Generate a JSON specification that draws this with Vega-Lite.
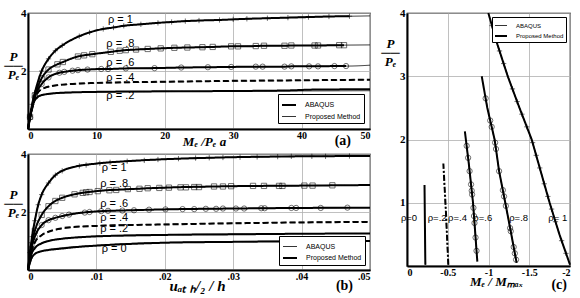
{
 "$schema": "https://vega.github.io/schema/vega-lite/v6.json",
 "background": "white",
 "padding": {"left": 3, "top": 6, "right": 2, "bottom": 2},
 "config": {
  "view": {"stroke": "black", "strokeWidth": 1.2},
  "axis": {"grid": true, "gridColor": "#b0b0b0", "gridWidth": 0.8, "domainColor": "black", "domainWidth": 2, "ticks": false, "labelFont": "Liberation Serif", "labelFontWeight": "bold", "labelFontSize": 11, "labelColor": "black", "labelPadding": 2, "titleFont": "Liberation Serif", "titleFontWeight": "bold", "titleFontStyle": "italic", "titleColor": "black", "titleFontSize": 13},
  "legend": {"labelFont": "Liberation Sans", "labelFontSize": 7, "labelColor": "black", "strokeColor": "black", "fillColor": "white", "padding": 3, "rowPadding": 0, "symbolType": "stroke", "symbolSize": 196, "symbolStrokeColor": "black", "labelOffset": 8},
  "title": {"font": "Liberation Serif", "fontWeight": "bold", "fontSize": 14, "color": "black"}
 },
 "datasets": {
  "a": [
   {"r":1,"m":"P","x":0,"y":0},{"r":1,"m":"P","x":0.3,"y":0.45},{"r":1,"m":"P","x":0.6,"y":0.85},{"r":1,"m":"P","x":1,"y":1.25},{"r":1,"m":"P","x":1.5,"y":1.65},{"r":1,"m":"P","x":2,"y":2.0},{"r":1,"m":"P","x":3,"y":2.42},{"r":1,"m":"P","x":4,"y":2.7},{"r":1,"m":"P","x":5,"y":2.88},{"r":1,"m":"P","x":7,"y":3.15},{"r":1,"m":"P","x":10,"y":3.4},{"r":1,"m":"P","x":15,"y":3.58},{"r":1,"m":"P","x":20,"y":3.68},{"r":1,"m":"P","x":25,"y":3.74},{"r":1,"m":"P","x":30,"y":3.78},{"r":1,"m":"P","x":35,"y":3.82},{"r":1,"m":"P","x":40,"y":3.86},{"r":1,"m":"P","x":45,"y":3.88},{"r":1,"m":"P","x":50,"y":3.9},
   {"r":0.8,"m":"P","x":0,"y":0},{"r":0.8,"m":"P","x":0.3,"y":0.42},{"r":0.8,"m":"P","x":0.6,"y":0.8},{"r":0.8,"m":"P","x":1,"y":1.15},{"r":0.8,"m":"P","x":1.5,"y":1.5},{"r":0.8,"m":"P","x":2,"y":1.75},{"r":0.8,"m":"P","x":3,"y":2.05},{"r":0.8,"m":"P","x":4,"y":2.2},{"r":0.8,"m":"P","x":5,"y":2.3},{"r":0.8,"m":"P","x":7,"y":2.48},{"r":0.8,"m":"P","x":10,"y":2.6},{"r":0.8,"m":"P","x":15,"y":2.73},{"r":0.8,"m":"P","x":20,"y":2.79},{"r":0.8,"m":"P","x":25,"y":2.82},{"r":0.8,"m":"P","x":30,"y":2.85},{"r":0.8,"m":"P","x":35,"y":2.87},{"r":0.8,"m":"P","x":40,"y":2.88},{"r":0.8,"m":"P","x":45,"y":2.89},{"r":0.8,"m":"P","x":50,"y":2.9},
   {"r":0.6,"m":"P","x":0,"y":0},{"r":0.6,"m":"P","x":0.3,"y":0.4},{"r":0.6,"m":"P","x":0.6,"y":0.75},{"r":0.6,"m":"P","x":1,"y":1.1},{"r":0.6,"m":"P","x":1.5,"y":1.38},{"r":0.6,"m":"P","x":2,"y":1.55},{"r":0.6,"m":"P","x":3,"y":1.78},{"r":0.6,"m":"P","x":4,"y":1.9},{"r":0.6,"m":"P","x":5,"y":1.96},{"r":0.6,"m":"P","x":7,"y":2.02},{"r":0.6,"m":"P","x":10,"y":2.06},{"r":0.6,"m":"P","x":15,"y":2.09},{"r":0.6,"m":"P","x":20,"y":2.11},{"r":0.6,"m":"P","x":25,"y":2.12},{"r":0.6,"m":"P","x":30,"y":2.14},{"r":0.6,"m":"P","x":40,"y":2.16},{"r":0.6,"m":"P","x":47,"y":2.17},{"r":0.6,"m":"P","x":50,"y":2.2},
   {"r":0.4,"m":"P","x":0,"y":0},{"r":0.4,"m":"P","x":0.3,"y":0.4},{"r":0.4,"m":"P","x":0.6,"y":0.72},{"r":0.4,"m":"P","x":1,"y":1.02},{"r":0.4,"m":"P","x":1.5,"y":1.25},{"r":0.4,"m":"P","x":2,"y":1.36},{"r":0.4,"m":"P","x":3,"y":1.45},{"r":0.4,"m":"P","x":5,"y":1.52},{"r":0.4,"m":"P","x":7,"y":1.55},{"r":0.4,"m":"P","x":10,"y":1.58},{"r":0.4,"m":"P","x":15,"y":1.6},{"r":0.4,"m":"P","x":20,"y":1.62},{"r":0.4,"m":"P","x":30,"y":1.65},{"r":0.4,"m":"P","x":40,"y":1.67},{"r":0.4,"m":"P","x":50,"y":1.7},
   {"r":0.2,"m":"P","x":0,"y":0},{"r":0.2,"m":"P","x":0.3,"y":0.4},{"r":0.2,"m":"P","x":0.6,"y":0.72},{"r":0.2,"m":"P","x":1,"y":0.98},{"r":0.2,"m":"P","x":1.5,"y":1.1},{"r":0.2,"m":"P","x":2,"y":1.16},{"r":0.2,"m":"P","x":3,"y":1.2},{"r":0.2,"m":"P","x":5,"y":1.24},{"r":0.2,"m":"P","x":10,"y":1.27},{"r":0.2,"m":"P","x":20,"y":1.29},{"r":0.2,"m":"P","x":30,"y":1.3},{"r":0.2,"m":"P","x":40,"y":1.31},{"r":0.2,"m":"P","x":50,"y":1.32},
   {"r":1,"m":"A","x":0,"y":0},{"r":1,"m":"A","x":0.3,"y":0.45},{"r":1,"m":"A","x":0.6,"y":0.85},{"r":1,"m":"A","x":1,"y":1.25},{"r":1,"m":"A","x":2,"y":2.0},{"r":1,"m":"A","x":3,"y":2.42},{"r":1,"m":"A","x":4,"y":2.7},{"r":1,"m":"A","x":5,"y":2.88},{"r":1,"m":"A","x":7.5,"y":3.2},{"r":1,"m":"A","x":9,"y":3.33},{"r":1,"m":"A","x":11,"y":3.45},{"r":1,"m":"A","x":12.5,"y":3.5},{"r":1,"m":"A","x":14,"y":3.56},{"r":1,"m":"A","x":16.5,"y":3.61},{"r":1,"m":"A","x":19,"y":3.66},{"r":1,"m":"A","x":21,"y":3.69},{"r":1,"m":"A","x":23,"y":3.72},{"r":1,"m":"A","x":25,"y":3.74},{"r":1,"m":"A","x":28,"y":3.76},{"r":1,"m":"A","x":30,"y":3.78},{"r":1,"m":"A","x":32,"y":3.8},{"r":1,"m":"A","x":35,"y":3.82},{"r":1,"m":"A","x":38,"y":3.84},{"r":1,"m":"A","x":41,"y":3.86},{"r":1,"m":"A","x":44,"y":3.88},{"r":1,"m":"A","x":47,"y":3.89},
   {"r":0.8,"m":"A","x":0,"y":0},{"r":0.8,"m":"A","x":0.3,"y":0.42},{"r":0.8,"m":"A","x":1,"y":1.15},{"r":0.8,"m":"A","x":2,"y":1.75},{"r":0.8,"m":"A","x":3,"y":2.05},{"r":0.8,"m":"A","x":4.3,"y":2.23},{"r":0.8,"m":"A","x":5.1,"y":2.31},{"r":0.8,"m":"A","x":7.3,"y":2.5},{"r":0.8,"m":"A","x":8.2,"y":2.54},{"r":0.8,"m":"A","x":9.4,"y":2.58},{"r":0.8,"m":"A","x":12.1,"y":2.66},{"r":0.8,"m":"A","x":13.4,"y":2.7},{"r":0.8,"m":"A","x":14.3,"y":2.72},{"r":0.8,"m":"A","x":15.8,"y":2.74},{"r":0.8,"m":"A","x":17.5,"y":2.76},{"r":0.8,"m":"A","x":19.4,"y":2.78},{"r":0.8,"m":"A","x":21.4,"y":2.8},{"r":0.8,"m":"A","x":23.3,"y":2.81},{"r":0.8,"m":"A","x":25.5,"y":2.82},{"r":0.8,"m":"A","x":27,"y":2.83},{"r":0.8,"m":"A","x":29.7,"y":2.85},{"r":0.8,"m":"A","x":30.7,"y":2.85},{"r":0.8,"m":"A","x":33.3,"y":2.86},{"r":0.8,"m":"A","x":34.5,"y":2.87},{"r":0.8,"m":"A","x":37.5,"y":2.87},{"r":0.8,"m":"A","x":38.5,"y":2.88},{"r":0.8,"m":"A","x":41.9,"y":2.88},{"r":0.8,"m":"A","x":42.4,"y":2.88},{"r":0.8,"m":"A","x":45.5,"y":2.89},{"r":0.8,"m":"A","x":46.2,"y":2.89},
   {"r":0.6,"m":"A","x":0,"y":0},{"r":0.6,"m":"A","x":0.3,"y":0.4},{"r":0.6,"m":"A","x":1,"y":1.1},{"r":0.6,"m":"A","x":2,"y":1.55},{"r":0.6,"m":"A","x":3,"y":1.78},{"r":0.6,"m":"A","x":4.6,"y":1.94},{"r":0.6,"m":"A","x":5.3,"y":1.97},{"r":0.6,"m":"A","x":6.5,"y":2.01},{"r":0.6,"m":"A","x":7.3,"y":2.03},{"r":0.6,"m":"A","x":8.7,"y":2.05},{"r":0.6,"m":"A","x":10.7,"y":2.07},{"r":0.6,"m":"A","x":11.7,"y":2.07},{"r":0.6,"m":"A","x":14.3,"y":2.09},{"r":0.6,"m":"A","x":18.5,"y":2.1},{"r":0.6,"m":"A","x":22.4,"y":2.12},{"r":0.6,"m":"A","x":26.3,"y":2.13},{"r":0.6,"m":"A","x":29.7,"y":2.14},{"r":0.6,"m":"A","x":33.3,"y":2.15},{"r":0.6,"m":"A","x":34.3,"y":2.15},{"r":0.6,"m":"A","x":37.5,"y":2.15},{"r":0.6,"m":"A","x":38.5,"y":2.16},{"r":0.6,"m":"A","x":41.1,"y":2.16},{"r":0.6,"m":"A","x":42.4,"y":2.16},{"r":0.6,"m":"A","x":44.8,"y":2.17},{"r":0.6,"m":"A","x":46.5,"y":2.17},
   {"r":0.4,"m":"A","x":0,"y":0},{"r":0.4,"m":"A","x":1,"y":1.04},{"r":0.4,"m":"A","x":2,"y":1.38},{"r":0.4,"m":"A","x":5,"y":1.53},{"r":0.4,"m":"A","x":10,"y":1.59},{"r":0.4,"m":"A","x":20,"y":1.63},{"r":0.4,"m":"A","x":30,"y":1.66},{"r":0.4,"m":"A","x":40,"y":1.68},{"r":0.4,"m":"A","x":50,"y":1.7},
   {"r":0.2,"m":"A","x":0,"y":0},{"r":0.2,"m":"A","x":1,"y":1.0},{"r":0.2,"m":"A","x":2,"y":1.17},{"r":0.2,"m":"A","x":5,"y":1.25},{"r":0.2,"m":"A","x":10,"y":1.28},{"r":0.2,"m":"A","x":20,"y":1.3},{"r":0.2,"m":"A","x":30,"y":1.31},{"r":0.2,"m":"A","x":38,"y":1.33},{"r":0.2,"m":"A","x":42,"y":1.36},{"r":0.2,"m":"A","x":50,"y":1.37}
  ],
  "ta": [
   {"x":13.5,"y":3.75,"t":"ρ = 1"},{"x":13.5,"y":2.93,"t":"ρ = .8"},{"x":13.5,"y":2.26,"t":"ρ = .6"},{"x":13.5,"y":1.76,"t":"ρ = .4"},{"x":13.5,"y":1.15,"t":"ρ = .2"}
  ],
  "b": [
   {"r":1,"m":"P","x":0,"y":0},{"r":1,"m":"P","x":0.0005,"y":1.0},{"r":1,"m":"P","x":0.001,"y":1.7},{"r":1,"m":"P","x":0.0015,"y":2.25},{"r":1,"m":"P","x":0.002,"y":2.6},{"r":1,"m":"P","x":0.003,"y":3.0},{"r":1,"m":"P","x":0.004,"y":3.27},{"r":1,"m":"P","x":0.005,"y":3.42},{"r":1,"m":"P","x":0.007,"y":3.57},{"r":1,"m":"P","x":0.01,"y":3.67},{"r":1,"m":"P","x":0.015,"y":3.76},{"r":1,"m":"P","x":0.02,"y":3.82},{"r":1,"m":"P","x":0.025,"y":3.86},{"r":1,"m":"P","x":0.03,"y":3.89},{"r":1,"m":"P","x":0.04,"y":3.92},{"r":1,"m":"P","x":0.05,"y":3.93},
   {"r":0.8,"m":"P","x":0,"y":0},{"r":0.8,"m":"P","x":0.0005,"y":0.85},{"r":0.8,"m":"P","x":0.001,"y":1.35},{"r":0.8,"m":"P","x":0.002,"y":1.9},{"r":0.8,"m":"P","x":0.003,"y":2.2},{"r":0.8,"m":"P","x":0.004,"y":2.38},{"r":0.8,"m":"P","x":0.005,"y":2.49},{"r":0.8,"m":"P","x":0.007,"y":2.62},{"r":0.8,"m":"P","x":0.01,"y":2.72},{"r":0.8,"m":"P","x":0.015,"y":2.79},{"r":0.8,"m":"P","x":0.02,"y":2.84},{"r":0.8,"m":"P","x":0.03,"y":2.89},{"r":0.8,"m":"P","x":0.04,"y":2.91},{"r":0.8,"m":"P","x":0.05,"y":2.93},
   {"r":0.6,"m":"P","x":0,"y":0},{"r":0.6,"m":"P","x":0.0005,"y":0.75},{"r":0.6,"m":"P","x":0.001,"y":1.15},{"r":0.6,"m":"P","x":0.002,"y":1.55},{"r":0.6,"m":"P","x":0.003,"y":1.72},{"r":0.6,"m":"P","x":0.004,"y":1.8},{"r":0.6,"m":"P","x":0.005,"y":1.86},{"r":0.6,"m":"P","x":0.007,"y":1.95},{"r":0.6,"m":"P","x":0.01,"y":2.02},{"r":0.6,"m":"P","x":0.015,"y":2.06},{"r":0.6,"m":"P","x":0.02,"y":2.09},{"r":0.6,"m":"P","x":0.03,"y":2.12},{"r":0.6,"m":"P","x":0.04,"y":2.14},{"r":0.6,"m":"P","x":0.05,"y":2.15},
   {"r":0.4,"m":"P","x":0,"y":0},{"r":0.4,"m":"P","x":0.0005,"y":0.65},{"r":0.4,"m":"P","x":0.001,"y":0.95},{"r":0.4,"m":"P","x":0.002,"y":1.2},{"r":0.4,"m":"P","x":0.003,"y":1.32},{"r":0.4,"m":"P","x":0.005,"y":1.44},{"r":0.4,"m":"P","x":0.007,"y":1.49},{"r":0.4,"m":"P","x":0.01,"y":1.52},{"r":0.4,"m":"P","x":0.015,"y":1.55},{"r":0.4,"m":"P","x":0.02,"y":1.57},{"r":0.4,"m":"P","x":0.03,"y":1.61},{"r":0.4,"m":"P","x":0.04,"y":1.64},{"r":0.4,"m":"P","x":0.05,"y":1.66},
   {"r":0.2,"m":"P","x":0,"y":0},{"r":0.2,"m":"P","x":0.0005,"y":0.55},{"r":0.2,"m":"P","x":0.001,"y":0.75},{"r":0.2,"m":"P","x":0.002,"y":0.92},{"r":0.2,"m":"P","x":0.003,"y":1.0},{"r":0.2,"m":"P","x":0.005,"y":1.08},{"r":0.2,"m":"P","x":0.007,"y":1.12},{"r":0.2,"m":"P","x":0.01,"y":1.16},{"r":0.2,"m":"P","x":0.015,"y":1.19},{"r":0.2,"m":"P","x":0.02,"y":1.21},{"r":0.2,"m":"P","x":0.03,"y":1.23},{"r":0.2,"m":"P","x":0.04,"y":1.25},{"r":0.2,"m":"P","x":0.05,"y":1.26},
   {"r":0,"m":"P","x":0,"y":0},{"r":0,"m":"P","x":0.0005,"y":0.4},{"r":0,"m":"P","x":0.001,"y":0.55},{"r":0,"m":"P","x":0.002,"y":0.65},{"r":0,"m":"P","x":0.003,"y":0.69},{"r":0,"m":"P","x":0.005,"y":0.74},{"r":0,"m":"P","x":0.007,"y":0.79},{"r":0,"m":"P","x":0.01,"y":0.84},{"r":0,"m":"P","x":0.015,"y":0.9},{"r":0,"m":"P","x":0.02,"y":0.94},{"r":0,"m":"P","x":0.03,"y":0.97},{"r":0,"m":"P","x":0.04,"y":0.99},{"r":0,"m":"P","x":0.05,"y":1.0},
   {"r":1,"m":"A","x":0,"y":0},{"r":1,"m":"A","x":0.0003,"y":0.6},{"r":1,"m":"A","x":0.0006,"y":1.15},{"r":1,"m":"A","x":0.001,"y":1.7},{"r":1,"m":"A","x":0.0015,"y":2.25},{"r":1,"m":"A","x":0.002,"y":2.6},{"r":1,"m":"A","x":0.003,"y":3.0},{"r":1,"m":"A","x":0.004,"y":3.27},{"r":1,"m":"A","x":0.005,"y":3.42},{"r":1,"m":"A","x":0.0075,"y":3.59},{"r":1,"m":"A","x":0.0085,"y":3.62},{"r":1,"m":"A","x":0.0105,"y":3.68},{"r":1,"m":"A","x":0.012,"y":3.71},{"r":1,"m":"A","x":0.0145,"y":3.75},{"r":1,"m":"A","x":0.017,"y":3.78},{"r":1,"m":"A","x":0.019,"y":3.81},{"r":1,"m":"A","x":0.022,"y":3.84},{"r":1,"m":"A","x":0.0245,"y":3.86},{"r":1,"m":"A","x":0.0265,"y":3.87},{"r":1,"m":"A","x":0.0285,"y":3.88},{"r":1,"m":"A","x":0.031,"y":3.89},{"r":1,"m":"A","x":0.0335,"y":3.9},{"r":1,"m":"A","x":0.0365,"y":3.91},{"r":1,"m":"A","x":0.0385,"y":3.92},{"r":1,"m":"A","x":0.0415,"y":3.92},{"r":1,"m":"A","x":0.0435,"y":3.92},{"r":1,"m":"A","x":0.047,"y":3.93},
   {"r":0.8,"m":"A","x":0,"y":0},{"r":0.8,"m":"A","x":0.0005,"y":0.85},{"r":0.8,"m":"A","x":0.001,"y":1.35},{"r":0.8,"m":"A","x":0.002,"y":1.9},{"r":0.8,"m":"A","x":0.003,"y":2.2},{"r":0.8,"m":"A","x":0.004,"y":2.38},{"r":0.8,"m":"A","x":0.005,"y":2.49},{"r":0.8,"m":"A","x":0.0068,"y":2.61},{"r":0.8,"m":"A","x":0.008,"y":2.66},{"r":0.8,"m":"A","x":0.0085,"y":2.68},{"r":0.8,"m":"A","x":0.009,"y":2.69},{"r":0.8,"m":"A","x":0.0102,"y":2.72},{"r":0.8,"m":"A","x":0.0119,"y":2.75},{"r":0.8,"m":"A","x":0.0129,"y":2.76},{"r":0.8,"m":"A","x":0.0146,"y":2.79},{"r":0.8,"m":"A","x":0.0163,"y":2.8},{"r":0.8,"m":"A","x":0.0175,"y":2.82},{"r":0.8,"m":"A","x":0.0192,"y":2.83},{"r":0.8,"m":"A","x":0.0206,"y":2.84},{"r":0.8,"m":"A","x":0.0223,"y":2.85},{"r":0.8,"m":"A","x":0.0231,"y":2.85},{"r":0.8,"m":"A","x":0.0243,"y":2.86},{"r":0.8,"m":"A","x":0.025,"y":2.86},{"r":0.8,"m":"A","x":0.0272,"y":2.88},{"r":0.8,"m":"A","x":0.0285,"y":2.88},{"r":0.8,"m":"A","x":0.0297,"y":2.89},{"r":0.8,"m":"A","x":0.0329,"y":2.9},{"r":0.8,"m":"A","x":0.0345,"y":2.9},{"r":0.8,"m":"A","x":0.0367,"y":2.9},{"r":0.8,"m":"A","x":0.0372,"y":2.9},{"r":0.8,"m":"A","x":0.0404,"y":2.91},{"r":0.8,"m":"A","x":0.0416,"y":2.91},{"r":0.8,"m":"A","x":0.0445,"y":2.92},
   {"r":0.6,"m":"A","x":0,"y":0},{"r":0.6,"m":"A","x":0.0005,"y":0.75},{"r":0.6,"m":"A","x":0.001,"y":1.15},{"r":0.6,"m":"A","x":0.002,"y":1.55},{"r":0.6,"m":"A","x":0.003,"y":1.72},{"r":0.6,"m":"A","x":0.004,"y":1.8},{"r":0.6,"m":"A","x":0.005,"y":1.86},{"r":0.6,"m":"A","x":0.006,"y":1.91},{"r":0.6,"m":"A","x":0.0083,"y":1.98},{"r":0.6,"m":"A","x":0.009,"y":2.0},{"r":0.6,"m":"A","x":0.0107,"y":2.03},{"r":0.6,"m":"A","x":0.0117,"y":2.04},{"r":0.6,"m":"A","x":0.0138,"y":2.05},{"r":0.6,"m":"A","x":0.0155,"y":2.06},{"r":0.6,"m":"A","x":0.0177,"y":2.08},{"r":0.6,"m":"A","x":0.0201,"y":2.09},{"r":0.6,"m":"A","x":0.0226,"y":2.1},{"r":0.6,"m":"A","x":0.0243,"y":2.1},{"r":0.6,"m":"A","x":0.026,"y":2.11},{"r":0.6,"m":"A","x":0.0275,"y":2.11},{"r":0.6,"m":"A","x":0.0285,"y":2.12},{"r":0.6,"m":"A","x":0.0304,"y":2.12},{"r":0.6,"m":"A","x":0.0316,"y":2.12},{"r":0.6,"m":"A","x":0.0341,"y":2.13},{"r":0.6,"m":"A","x":0.0346,"y":2.13},{"r":0.6,"m":"A","x":0.0385,"y":2.14},{"r":0.6,"m":"A","x":0.0392,"y":2.14},{"r":0.6,"m":"A","x":0.0428,"y":2.14},{"r":0.6,"m":"A","x":0.0467,"y":2.15},
   {"r":0.4,"m":"A","x":0,"y":0},{"r":0.4,"m":"A","x":0.001,"y":0.97},{"r":0.4,"m":"A","x":0.003,"y":1.33},{"r":0.4,"m":"A","x":0.01,"y":1.53},{"r":0.4,"m":"A","x":0.02,"y":1.58},{"r":0.4,"m":"A","x":0.03,"y":1.62},{"r":0.4,"m":"A","x":0.05,"y":1.67},
   {"r":0.2,"m":"A","x":0,"y":0},{"r":0.2,"m":"A","x":0.001,"y":0.77},{"r":0.2,"m":"A","x":0.003,"y":1.01},{"r":0.2,"m":"A","x":0.01,"y":1.17},{"r":0.2,"m":"A","x":0.02,"y":1.22},{"r":0.2,"m":"A","x":0.038,"y":1.25},
   {"r":0,"m":"A","x":0,"y":0},{"r":0,"m":"A","x":0.001,"y":0.56},{"r":0,"m":"A","x":0.003,"y":0.7},{"r":0,"m":"A","x":0.01,"y":0.85},{"r":0,"m":"A","x":0.02,"y":0.95},{"r":0,"m":"A","x":0.05,"y":1.01}
  ],
  "tb": [
   {"x":0.0126,"y":3.53,"t":"ρ = 1"},{"x":0.0126,"y":2.95,"t":"ρ = .8"},{"x":0.0126,"y":2.29,"t":"ρ = .6"},{"x":0.0126,"y":1.79,"t":"ρ = .4"},{"x":0.0126,"y":1.4,"t":"ρ = .2"},{"x":0.0126,"y":0.71,"t":"ρ = 0"}
  ],
  "c": [
   {"r":0.2,"m":"P","x":-0.225,"y":0.02},{"r":0.2,"m":"P","x":-0.215,"y":1.28},
   {"r":0.4,"m":"P","x":-0.507,"y":0.02},{"r":0.4,"m":"P","x":-0.48,"y":0.8},{"r":0.4,"m":"P","x":-0.446,"y":1.62},
   {"r":0.6,"m":"P","x":-0.863,"y":0.07},{"r":0.6,"m":"P","x":-0.81,"y":1.0},{"r":0.6,"m":"P","x":-0.76,"y":1.6},{"r":0.6,"m":"P","x":-0.71,"y":2.13},
   {"r":0.8,"m":"P","x":-1.345,"y":0.05},{"r":0.8,"m":"P","x":-1.28,"y":0.5},{"r":0.8,"m":"P","x":-1.206,"y":1.0},{"r":0.8,"m":"P","x":-1.13,"y":1.5},{"r":0.8,"m":"P","x":-1.075,"y":2.0},{"r":0.8,"m":"P","x":-0.985,"y":2.5},{"r":0.8,"m":"P","x":-0.917,"y":3.0},
   {"r":1,"m":"P","x":-2.0,"y":0.02},{"r":1,"m":"P","x":-1.87,"y":0.5},{"r":1,"m":"P","x":-1.75,"y":1.0},{"r":1,"m":"P","x":-1.64,"y":1.5},{"r":1,"m":"P","x":-1.53,"y":2.0},{"r":1,"m":"P","x":-1.38,"y":2.5},{"r":1,"m":"P","x":-1.236,"y":3.0},{"r":1,"m":"P","x":-1.11,"y":3.5},{"r":1,"m":"P","x":-0.998,"y":4.0},
   {"r":0.2,"m":"A","x":-0.228,"y":0.02},{"r":0.2,"m":"A","x":-0.222,"y":0.6},
   {"r":0.4,"m":"A","x":-0.505,"y":0.02},{"r":0.4,"m":"A","x":-0.45,"y":1.5},
   {"r":0.6,"m":"A","x":-0.853,"y":0.24},{"r":0.6,"m":"A","x":-0.841,"y":0.45},{"r":0.6,"m":"A","x":-0.828,"y":0.68},{"r":0.6,"m":"A","x":-0.822,"y":0.79},{"r":0.6,"m":"A","x":-0.815,"y":0.92},{"r":0.6,"m":"A","x":-0.799,"y":1.13},{"r":0.6,"m":"A","x":-0.794,"y":1.19},{"r":0.6,"m":"A","x":-0.786,"y":1.29},{"r":0.6,"m":"A","x":-0.768,"y":1.5},{"r":0.6,"m":"A","x":-0.75,"y":1.71},{"r":0.6,"m":"A","x":-0.732,"y":1.9},
   {"r":0.8,"m":"A","x":-1.338,"y":0.1},{"r":0.8,"m":"A","x":-1.323,"y":0.2},{"r":0.8,"m":"A","x":-1.309,"y":0.3},{"r":0.8,"m":"A","x":-1.273,"y":0.55},{"r":0.8,"m":"A","x":-1.265,"y":0.6},{"r":0.8,"m":"A","x":-1.213,"y":0.95},{"r":0.8,"m":"A","x":-1.191,"y":1.1},{"r":0.8,"m":"A","x":-1.176,"y":1.2},{"r":0.8,"m":"A","x":-1.13,"y":1.5},{"r":0.8,"m":"A","x":-1.092,"y":1.85},{"r":0.8,"m":"A","x":-1.081,"y":1.95},{"r":0.8,"m":"A","x":-1.039,"y":2.2},{"r":0.8,"m":"A","x":-1.021,"y":2.3},{"r":0.8,"m":"A","x":-0.965,"y":2.65},
   {"r":1,"m":"A","x":-1.951,"y":0.2},{"r":1,"m":"A","x":-1.897,"y":0.4},{"r":1,"m":"A","x":-1.822,"y":0.7},{"r":1,"m":"A","x":-1.774,"y":0.9},{"r":1,"m":"A","x":-1.728,"y":1.1},{"r":1,"m":"A","x":-1.684,"y":1.3},{"r":1,"m":"A","x":-1.629,"y":1.55},{"r":1,"m":"A","x":-1.585,"y":1.75},{"r":1,"m":"A","x":-1.541,"y":1.95},{"r":1,"m":"A","x":-1.47,"y":2.2},{"r":1,"m":"A","x":-1.41,"y":2.4},{"r":1,"m":"A","x":-1.351,"y":2.6},{"r":1,"m":"A","x":-1.294,"y":2.8},{"r":1,"m":"A","x":-1.186,"y":3.2},{"r":1,"m":"A","x":-1.135,"y":3.4},{"r":1,"m":"A","x":-1.099,"y":3.55},{"r":1,"m":"A","x":-1.043,"y":3.8}
  ],
  "tc": [
   {"x":-0.025,"y":0.76,"t":"ρ=0"},{"x":-0.37,"y":0.76,"t":"ρ=.2"},{"x":-0.62,"y":0.76,"t":"ρ=.4"},{"x":-0.93,"y":0.76,"t":"ρ=.6"},{"x":-1.37,"y":0.76,"t":"ρ=.8"},{"x":-1.85,"y":0.76,"t":"ρ= 1"}
  ]
 },
 "spacing": 5,
 "resolve": {"scale": {"strokeWidth": "independent", "strokeDash": "independent", "shape": "independent"}, "legend": {"strokeWidth": "independent"}},
 "hconcat": [
  {
   "spacing": 25,
   "bounds": "flush",
   "resolve": {"scale": {"strokeWidth": "independent", "strokeDash": "independent", "shape": "independent"}, "legend": {"strokeWidth": "independent"}},
   "vconcat": [
    {
     "width": 342, "height": 116,
     "data": {"name": "a"},
     "title": {"text": "(a)", "orient": "bottom", "anchor": "end", "frame": "group", "offset": -14, "dx": -19},
     "layer": [
      {"mark": {"type": "line", "interpolate": "monotone", "color": "black"},
       "encoding": {
        "x": {"field": "x", "type": "quantitative", "scale": {"domain": [0, 50], "nice": false}, "axis": {"values": [0,5,10,15,20,25,30,35,40,45,50], "labelExpr": "datum.value % 10 == 0 ? datum.label : ''", "labelFontSize": 10, "labelPadding": 1, "title": "Mₑ  /Pₑ a", "titleX": 176, "titleY": 12, "titleBaseline": "middle", "titleAlign": "center"}},
        "y": {"field": "y", "type": "quantitative", "scale": {"domain": [0, 4], "nice": false}, "axis": {"values": [0,0.5,1,1.5,2,2.5,3,3.5,4], "labelExpr": "datum.value > 0 && datum.value % 1 == 0 ? format(datum.value, 'd') : ''", "title": ["P", "──", "Pₑ"], "titleAngle": 0, "titleX": -15, "titleY": 43, "titleAlign": "center", "titleBaseline": "middle", "titleLineHeight": 9}},
        "detail": {"field": "r", "type": "nominal"},
        "strokeDash": {"field": "r", "type": "nominal", "scale": {"domain": [0, 0.2, 0.4, 0.6, 0.8, 1], "range": [[1,0],[1,0],[6,3],[1,0],[1,0],[1,0]]}, "legend": null},
        "strokeWidth": {"field": "m", "type": "nominal", "scale": {"type": "ordinal", "domain": ["A", "P"], "range": [2, 0.8]}, "legend": {"title": null, "orient": "bottom-right", "offset": 6, "labelExpr": "datum.value == 'A' ? 'ABAQUS' : 'Proposed Method'"}}
       }},
      {"transform": [{"filter": "datum.m == 'A' && datum.r >= 0.6 && datum.y > 0"}],
       "mark": {"type": "point", "filled": false, "color": "black", "strokeWidth": 0.8, "size": 28},
       "encoding": {
        "x": {"field": "x", "type": "quantitative"},
        "y": {"field": "y", "type": "quantitative"},
        "shape": {"field": "r", "type": "nominal", "scale": {"domain": [1, 0.8, 0.6], "range": ["M-1,0H1M0,-1V1", "square", "circle"]}, "legend": null}
       }},
      {"data": {"name": "ta"},
       "mark": {"type": "text", "font": "Liberation Sans", "fontSize": 11, "color": "black"},
       "encoding": {
        "x": {"field": "x", "type": "quantitative"},
        "y": {"field": "y", "type": "quantitative"},
        "text": {"field": "t"}
       }}
     ]
    },
    {
     "width": 342, "height": 116,
     "data": {"name": "b"},
     "title": {"text": "(b)", "orient": "bottom", "anchor": "end", "frame": "group", "offset": -14, "dx": -17},
     "layer": [
      {"mark": {"type": "line", "interpolate": "monotone", "color": "black"},
       "encoding": {
        "x": {"field": "x", "type": "quantitative", "scale": {"domain": [0, 0.05], "nice": false}, "axis": {"values": [0,0.005,0.01,0.015,0.02,0.025,0.03,0.035,0.04,0.045,0.05], "labelExpr": "datum.value == 0 ? '0' : (round(datum.value * 1000) % 10 == 0 ? '.0' + round(datum.value * 100) : '')", "labelFontSize": 10, "labelPadding": 1, "title": "uₐₜ ₕ/₂ / h", "titleFontSize": 15, "titleX": 169, "titleY": 15, "titleBaseline": "middle", "titleAlign": "center"}},
        "y": {"field": "y", "type": "quantitative", "scale": {"domain": [0, 4], "nice": false}, "axis": {"values": [0,0.5,1,1.5,2,2.5,3,3.5,4], "labelExpr": "datum.value > 0 && datum.value % 1 == 0 ? format(datum.value, 'd') : ''", "title": ["P", "──", "Pₑ"], "titleAngle": 0, "titleX": -15, "titleY": 40, "titleAlign": "center", "titleBaseline": "middle", "titleLineHeight": 9}},
        "detail": {"field": "r", "type": "nominal"},
        "strokeDash": {"field": "r", "type": "nominal", "scale": {"domain": [0, 0.2, 0.4, 0.6, 0.8, 1], "range": [[1,0],[1,0],[6,3],[1,0],[1,0],[1,0]]}, "legend": null},
        "strokeWidth": {"field": "m", "type": "nominal", "scale": {"type": "ordinal", "domain": ["A", "P"], "range": [0.8, 2]}, "legend": {"title": null, "orient": "bottom-right", "offset": 5, "labelExpr": "datum.value == 'A' ? 'ABAQUS' : 'Proposed Method'"}}
       }},
      {"transform": [{"filter": "datum.m == 'A' && datum.r >= 0.6 && datum.y > 0"}],
       "mark": {"type": "point", "filled": false, "color": "black", "strokeWidth": 0.8, "size": 28},
       "encoding": {
        "x": {"field": "x", "type": "quantitative"},
        "y": {"field": "y", "type": "quantitative"},
        "shape": {"field": "r", "type": "nominal", "scale": {"domain": [1, 0.8, 0.6], "range": ["M-1,0H1M0,-1V1", "square", "circle"]}, "legend": null}
       }},
      {"data": {"name": "tb"},
       "mark": {"type": "text", "font": "Liberation Sans", "fontSize": 11, "color": "black"},
       "encoding": {
        "x": {"field": "x", "type": "quantitative"},
        "y": {"field": "y", "type": "quantitative"},
        "text": {"field": "t"}
       }}
     ]
    }
   ]
  },
  {
   "width": 163, "height": 253,
   "data": {"name": "c"},
   "title": {"text": "(c)", "orient": "bottom", "anchor": "end", "frame": "group", "offset": -10, "dx": -3},
   "layer": [
    {"mark": {"type": "line", "color": "black"},
     "encoding": {
      "x": {"field": "x", "type": "quantitative", "scale": {"domain": [-2, 0], "reverse": true, "nice": false}, "axis": {"values": [0,-0.5,-1,-1.5,-2], "labelExpr": "datum.value == 0 ? '0' : '-' + format(abs(datum.value), '~g')", "labelFontSize": 10, "labelPadding": 1, "title": "Mₑ / Mₘₐₓ", "titleX": 89, "titleY": 15, "titleBaseline": "middle", "titleAlign": "center"}},
      "y": {"field": "y", "type": "quantitative", "scale": {"domain": [0, 4], "nice": false}, "axis": {"values": [0,0.5,1,1.5,2,2.5,3,3.5,4], "labelExpr": "datum.value > 0 && datum.value % 1 == 0 ? format(datum.value, 'd') : ''", "title": ["P", "──", "Pₑ"], "titleAngle": 0, "titleX": -17, "titleY": 30, "titleAlign": "center", "titleBaseline": "middle", "titleLineHeight": 9}},
      "detail": {"field": "r", "type": "nominal"},
      "order": {"field": "y", "type": "quantitative"},
      "strokeDash": {"field": "r", "type": "nominal", "scale": {"domain": [0.2, 0.4, 0.6, 0.8, 1], "range": [[1,0],[6,2,2,2],[1,0],[1,0],[1,0]]}, "legend": null},
      "strokeWidth": {"field": "m", "type": "nominal", "scale": {"type": "ordinal", "domain": ["A", "P"], "range": [0.8, 2]}, "legend": {"title": null, "orient": "top-right", "offset": 4, "labelFontSize": 6, "padding": 2, "symbolSize": 144, "labelExpr": "datum.value == 'A' ? 'ABAQUS' : 'Proposed Method'"}}
     }},
    {"transform": [{"filter": "datum.m == 'A' && datum.r >= 0.6"}],
     "mark": {"type": "point", "filled": false, "color": "black", "strokeWidth": 0.8, "size": 28},
     "encoding": {
      "x": {"field": "x", "type": "quantitative"},
      "y": {"field": "y", "type": "quantitative"},
      "shape": {"field": "r", "type": "nominal", "scale": {"domain": [1, 0.8, 0.6], "range": ["M-1,0H1M0,-1V1", "circle", "circle"]}, "legend": null}
     }},
    {"data": {"name": "tc"},
     "mark": {"type": "text", "font": "Liberation Sans", "fontSize": 9.5, "color": "black"},
     "encoding": {
      "x": {"field": "x", "type": "quantitative"},
      "y": {"field": "y", "type": "quantitative"},
      "text": {"field": "t"}
     }}
   ]
  }
 ]
}
